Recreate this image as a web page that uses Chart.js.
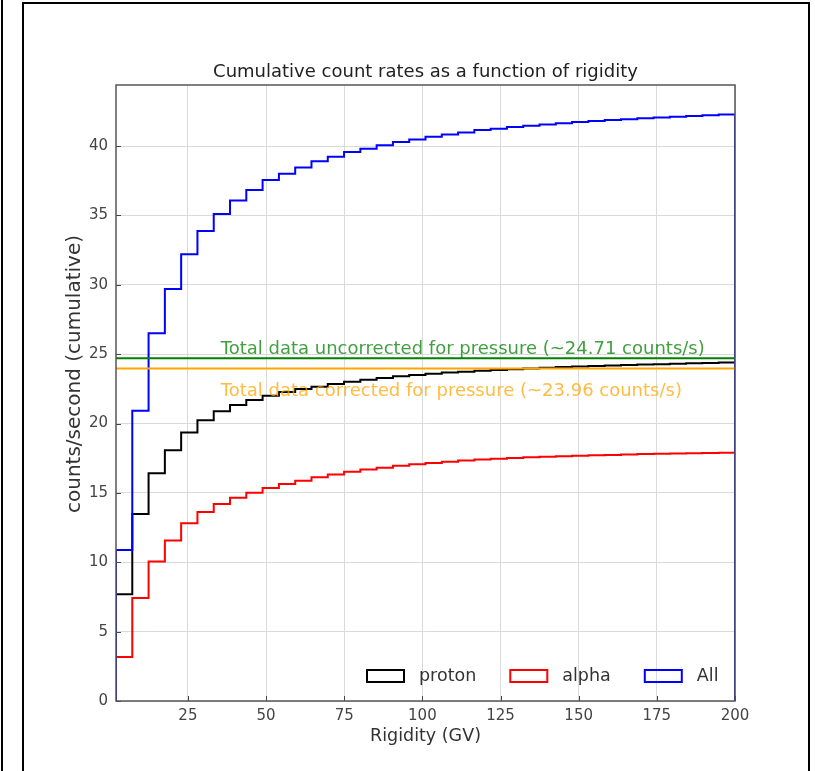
<!DOCTYPE html>
<html>
<head>
<meta charset="utf-8">
<title>Cumulative count rates</title>
<script src="https://cdn.jsdelivr.net/npm/chart.js@4.4.1/dist/chart.umd.min.js"></script>
<style>
    html, body { margin: 0; padding: 0; background: #fff; overflow: hidden; }
    .edge { position: absolute; left: 1px; top: 0; width: 2px; height: 771px; background: #000; }
    .frame { position: absolute; left: 22px; top: 2px; width: 784px; height: 769px; border: 2px solid #000; border-bottom: none; }
    #chart { position: absolute; left: 0; top: 0; }
</style>
</head>
<body>
<div class="edge"></div>
<div class="frame"></div>
<canvas id="chart" width="815" height="771"></canvas>
<script>
// Данные гистограммы (кумулятивные, шаг ~5.2 ГВ)
const binEdges = [2, 7.21, 12.42, 17.63, 22.84, 28.05, 33.26, 38.47, 43.68, 48.89,
    54.11, 59.32, 64.53, 69.74, 74.95, 80.16, 85.37, 90.58, 95.79, 101.0,
    106.21, 111.42, 116.63, 121.84, 127.05, 132.26, 137.47, 142.68, 147.89, 153.11,
    158.32, 163.53, 168.74, 173.95, 179.16, 184.37, 189.58, 194.79, 200];

const protonRates = [7.69, 13.48, 16.41, 18.07, 19.36, 20.23, 20.88, 21.33, 21.69, 22.0,
    22.27, 22.48, 22.65, 22.84, 23.01, 23.15, 23.28, 23.4, 23.5, 23.59,
    23.67, 23.74, 23.8, 23.86, 23.92, 23.97, 24.02, 24.07, 24.11, 24.15,
    24.19, 24.22, 24.25, 24.28, 24.31, 24.34, 24.36, 24.39];

const alphaRates = [3.17, 7.42, 10.05, 11.57, 12.82, 13.63, 14.2, 14.65, 15.01, 15.35,
    15.64, 15.88, 16.12, 16.33, 16.52, 16.68, 16.82, 16.95, 17.06, 17.16,
    17.25, 17.33, 17.4, 17.46, 17.51, 17.56, 17.6, 17.64, 17.68, 17.71,
    17.74, 17.77, 17.8, 17.82, 17.84, 17.86, 17.88, 17.9];

const allRates = [10.88, 20.92, 26.5, 29.7, 32.2, 33.87, 35.1, 36.08, 36.83, 37.55,
    38.0, 38.46, 38.9, 39.23, 39.57, 39.81, 40.05, 40.29, 40.48, 40.67,
    40.84, 40.98, 41.15, 41.25, 41.38, 41.47, 41.56, 41.65, 41.73, 41.8,
    41.87, 41.94, 42.0, 42.06, 42.12, 42.17, 42.22, 42.28];

const uncorrectedRate = 24.71;
const correctedRate = 23.96;

const xTicks = [25, 50, 75, 100, 125, 150, 175, 200];
const yTicks = [0, 5, 10, 15, 20, 25, 30, 35, 40];

const FONT = '"DejaVu Sans", sans-serif';

// Точки ступенчатой гистограммы (histtype='step')
function stepPoints(values) {
    const pts = [{ x: binEdges[0], y: 0 }];
    values.forEach((v, i) => pts.push({ x: binEdges[i], y: v }));
    const last = binEdges[values.length];
    pts.push({ x: last, y: values[values.length - 1] });
    pts.push({ x: last, y: 0 });
    return pts;
}

function hLine(value) {
    return [{ x: binEdges[0], y: value }, { x: binEdges[binEdges.length - 1], y: value }];
}

// Подписи, рамка, внутренние засечки и легенда
const decorPlugin = {
    id: 'decor',
    afterDraw(chart) {
        const { ctx, chartArea: a, scales } = chart;
        const xs = scales.x, ys = scales.y;
        ctx.save();

        // засечки внутрь
        ctx.strokeStyle = '#444';
        ctx.lineWidth = 1;
        ctx.beginPath();
        xTicks.forEach(t => {
            const px = Math.round(xs.getPixelForValue(t)) + 0.5;
            ctx.moveTo(px, a.bottom);
            ctx.lineTo(px, a.bottom - 5);
        });
        yTicks.forEach(t => {
            const py = Math.round(ys.getPixelForValue(t)) + 0.5;
            ctx.moveTo(a.left, py);
            ctx.lineTo(a.left + 5, py);
        });
        ctx.stroke();

        // рамка осей
        ctx.strokeStyle = '#555';
        ctx.lineWidth = 1.5;
        ctx.strokeRect(a.left, a.top, a.right - a.left, a.bottom - a.top);

        // заголовок
        ctx.fillStyle = '#222';
        ctx.font = '18px ' + FONT;
        ctx.textAlign = 'center';
        ctx.textBaseline = 'middle';
        ctx.fillText('Cumulative count rates as a function of rigidity', (a.left + a.right) / 2, 72);

        // подпись оси Y
        ctx.save();
        ctx.translate(75, 374);
        ctx.rotate(-Math.PI / 2);
        ctx.fillStyle = '#333';
        ctx.font = '20px ' + FONT;
        ctx.fillText('counts/second (cumulative)', 0, 0);
        ctx.restore();

        // подписи горизонтальных линий
        ctx.font = '18px ' + FONT;
        ctx.textAlign = 'left';
        ctx.textBaseline = 'alphabetic';
        ctx.fillStyle = 'rgba(0, 128, 0, 0.75)';
        ctx.fillText('Total data uncorrected for pressure (~' + uncorrectedRate + ' counts/s)',
            xs.getPixelForValue(35.5), ys.getPixelForValue(uncorrectedRate) - 4);
        ctx.fillStyle = 'rgba(255, 165, 0, 0.75)';
        ctx.fillText('Total data corrected for pressure (~' + correctedRate + ' counts/s)',
            xs.getPixelForValue(35.5), ys.getPixelForValue(correctedRate) + 27);

        // легенда внизу справа
        ctx.font = '17.5px ' + FONT;
        ctx.textBaseline = 'middle';
        let x = 367;
        const y = 676;
        chart.data.datasets.filter(d => d.inLegend).reverse().forEach(d => {
            ctx.strokeStyle = d.borderColor;
            ctx.lineWidth = 2;
            ctx.strokeRect(x, y - 6, 37, 12);
            ctx.fillStyle = '#333';
            ctx.fillText(d.label, x + 52, y);
            x += 52 + ctx.measureText(d.label).width + 34;
        });
        ctx.restore();
    }
};

const ctx = document.getElementById('chart').getContext('2d');
new Chart(ctx, {
    type: 'line',
    data: {
        datasets: [
            { label: 'uncorrected', data: hLine(uncorrectedRate), borderColor: 'green', order: 0 },
            { label: 'corrected', data: hLine(correctedRate), borderColor: 'orange', order: 0 },
            { label: 'All', data: stepPoints(allRates), borderColor: '#0000ff', stepped: 'before', order: 1, inLegend: true },
            { label: 'alpha', data: stepPoints(alphaRates), borderColor: '#ff0000', stepped: 'before', order: 2, inLegend: true },
            { label: 'proton', data: stepPoints(protonRates), borderColor: '#000000', stepped: 'before', order: 3, inLegend: true }
        ]
    },
    options: {
        responsive: false,
        animation: false,
        devicePixelRatio: 1,
        layout: { padding: { left: 40, top: 85, right: 80, bottom: 24 } },
        elements: {
            point: { radius: 0, hoverRadius: 0 },
            line: { borderWidth: 2, tension: 0, fill: false }
        },
        plugins: {
            legend: { display: false },
            tooltip: { enabled: false },
            title: { display: false }
        },
        scales: {
            x: {
                type: 'linear',
                min: 2,
                max: 200,
                afterBuildTicks: s => { s.ticks = xTicks.map(v => ({ value: v })); },
                afterFit: s => { s.height = 46; },
                grid: { color: '#dadada', lineWidth: 1, drawTicks: false },
                border: { display: false },
                ticks: { color: '#444', font: { family: FONT, size: 15 }, padding: 6, maxRotation: 0 },
                title: { display: true, text: 'Rigidity (GV)', color: '#333', font: { family: FONT, size: 17.5 }, padding: { top: 0, bottom: 0 } }
            },
            y: {
                type: 'linear',
                min: 0,
                max: 44.4,
                afterBuildTicks: s => { s.ticks = yTicks.map(v => ({ value: v })); },
                afterFit: s => { s.width = 76; },
                grid: { color: '#dadada', lineWidth: 1, drawTicks: false },
                border: { display: false },
                ticks: { color: '#444', font: { family: FONT, size: 15 }, padding: 8 }
            }
        }
    },
    plugins: [decorPlugin]
});
</script>
</body>
</html>
